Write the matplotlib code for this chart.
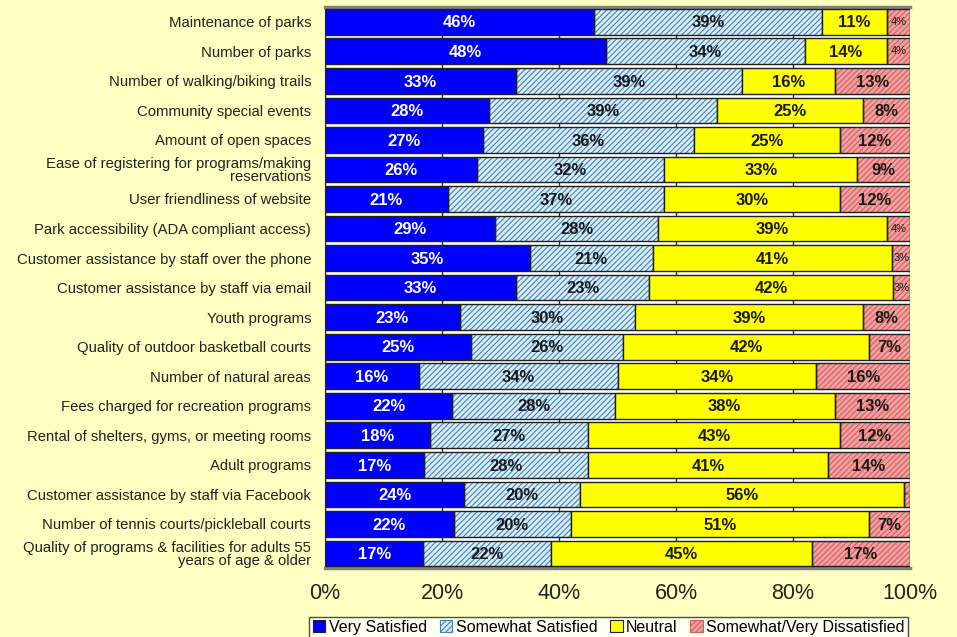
import matplotlib
matplotlib.use("Agg")
import matplotlib.pyplot as plt
import numpy as np
from matplotlib.patches import Patch

plt.rcParams['font.family'] = ['Liberation Sans', 'DejaVu Sans']
plt.rcParams['hatch.linewidth'] = 0.8

categories = [
    "Maintenance of parks",
    "Number of parks",
    "Number of walking/biking trails",
    "Community special events",
    "Amount of open spaces",
    "Ease of registering for programs/making\nreservations",
    "User friendliness of website",
    "Park accessibility (ADA compliant access)",
    "Customer assistance by staff over the phone",
    "Customer assistance by staff via email",
    "Youth programs",
    "Quality of outdoor basketball courts",
    "Number of natural areas",
    "Fees charged for recreation programs",
    "Rental of shelters, gyms, or meeting rooms",
    "Adult programs",
    "Customer assistance by staff via Facebook",
    "Number of tennis courts/pickleball courts",
    "Quality of programs & facilities for adults 55\nyears of age & older",
]
very_satisfied = [46, 48, 33, 28, 27, 26, 21, 29, 35, 33, 23, 25, 16, 22, 18, 17, 24, 22, 17]
somewhat_satisfied = [39, 34, 39, 39, 36, 32, 37, 28, 21, 23, 30, 26, 34, 28, 27, 28, 20, 20, 22]
neutral = [11, 14, 16, 25, 25, 33, 30, 39, 41, 42, 39, 42, 34, 38, 43, 41, 56, 51, 45]
dissatisfied = [4, 4, 13, 8, 12, 9, 12, 4, 3, 3, 8, 7, 16, 13, 12, 14, 1, 7, 17]
series_names = ["Very Satisfied", "Somewhat Satisfied", "Neutral", "Somewhat/Very Dissatisfied"]
xticks = [0, 20, 40, 60, 80, 100]

bg = '#FFFFC2'
fig = plt.figure(figsize=(9.57, 6.37), dpi=100, facecolor=bg)
ax = fig.add_axes([0.3396, 0.108, 0.6113, 0.881])
ax.set_facecolor('white')

data = np.array([very_satisfied, somewhat_satisfied, neutral, dissatisfied], dtype=float)
totals = data.sum(axis=0)
norm = data / totals * 100
y = np.arange(len(categories))
h = 0.87

styles = [
    dict(face='#0000FF', hatch=None, hcol=None, tcol='white'),
    dict(face='#D6EEFA', hatch='//////', hcol='#4A7FB0', tcol='#1a1a1a'),
    dict(face='#FFFF00', hatch=None, hcol=None, tcol='#1a1a1a'),
    dict(face='#F4A0A0', hatch='//////', hcol='#D06060', tcol='#1a1a1a'),
]

left = np.zeros(len(categories))
for i, st in enumerate(styles):
    w = norm[i]
    if st['hatch']:
        ax.barh(y, w, left=left, height=h, color=st['face'], hatch=st['hatch'],
                edgecolor=st['hcol'], linewidth=0, zorder=2)
        ax.barh(y, w, left=left, height=h, fill=False, edgecolor='#202020',
                linewidth=1.0, zorder=3)
    else:
        ax.barh(y, w, left=left, height=h, color=st['face'], edgecolor='#202020',
                linewidth=1.0, zorder=3)
    for j in range(len(categories)):
        v = data[i, j]
        cx = left[j] + w[j] / 2
        if v >= 5:
            ax.text(cx, y[j] + 0.04, f"{int(v)}%", ha='center', va='center', fontsize=12,
                    fontweight='bold', color=st['tcol'], zorder=4)
        elif v >= 3:
            ax.text(cx, y[j], f"{int(v)}%", ha='center', va='center', fontsize=8,
                    color=st['tcol'], zorder=4)
        else:
            ax.text(cx, y[j], f"{int(v)}%", ha='center', va='center', fontsize=3,
                    color=st['tcol'], zorder=4)
    left += w

ax.set_ylim(len(categories) - 0.5, -0.5)
ax.set_xlim(0, 100)
ax.set_yticks(y)
ax.set_yticklabels(categories, fontsize=10.7, color='#222222', linespacing=0.95)
ax.set_xticks(xticks)
ax.set_xticklabels([f"{t}%" for t in xticks], fontsize=15.5, color='#222222')
ax.tick_params(axis='y', length=0, pad=10)
ax.tick_params(axis='x', length=0, pad=11)
ax.grid(axis='x', color='#303030', linewidth=1.0, zorder=0)
ax.set_axisbelow(True)
ax.spines['right'].set_visible(False)
ax.spines['top'].set_color('#808080')
ax.spines['top'].set_linewidth(2.5)
ax.spines['bottom'].set_color('#808080')
ax.spines['bottom'].set_linewidth(2.5)
ax.spines['left'].set_color('#202020')

handles = [Patch(facecolor=st['face'], hatch=st['hatch'], edgecolor=st['hcol'] or '#202020',
                 linewidth=0.8) for st in styles]
leg = fig.legend(handles, series_names, loc='lower center', bbox_to_anchor=(0.636, -0.004),
                 ncol=4, fontsize=11.5, frameon=True, fancybox=False, edgecolor='#202020',
                 handlelength=0.8, handleheight=0.8, handletextpad=0.2, columnspacing=0.8,
                 borderpad=0.2, borderaxespad=0.1)
leg.get_frame().set_facecolor('white')
leg.get_frame().set_linewidth(1.0)

fig.savefig("out.png", dpi=100, facecolor=bg)
